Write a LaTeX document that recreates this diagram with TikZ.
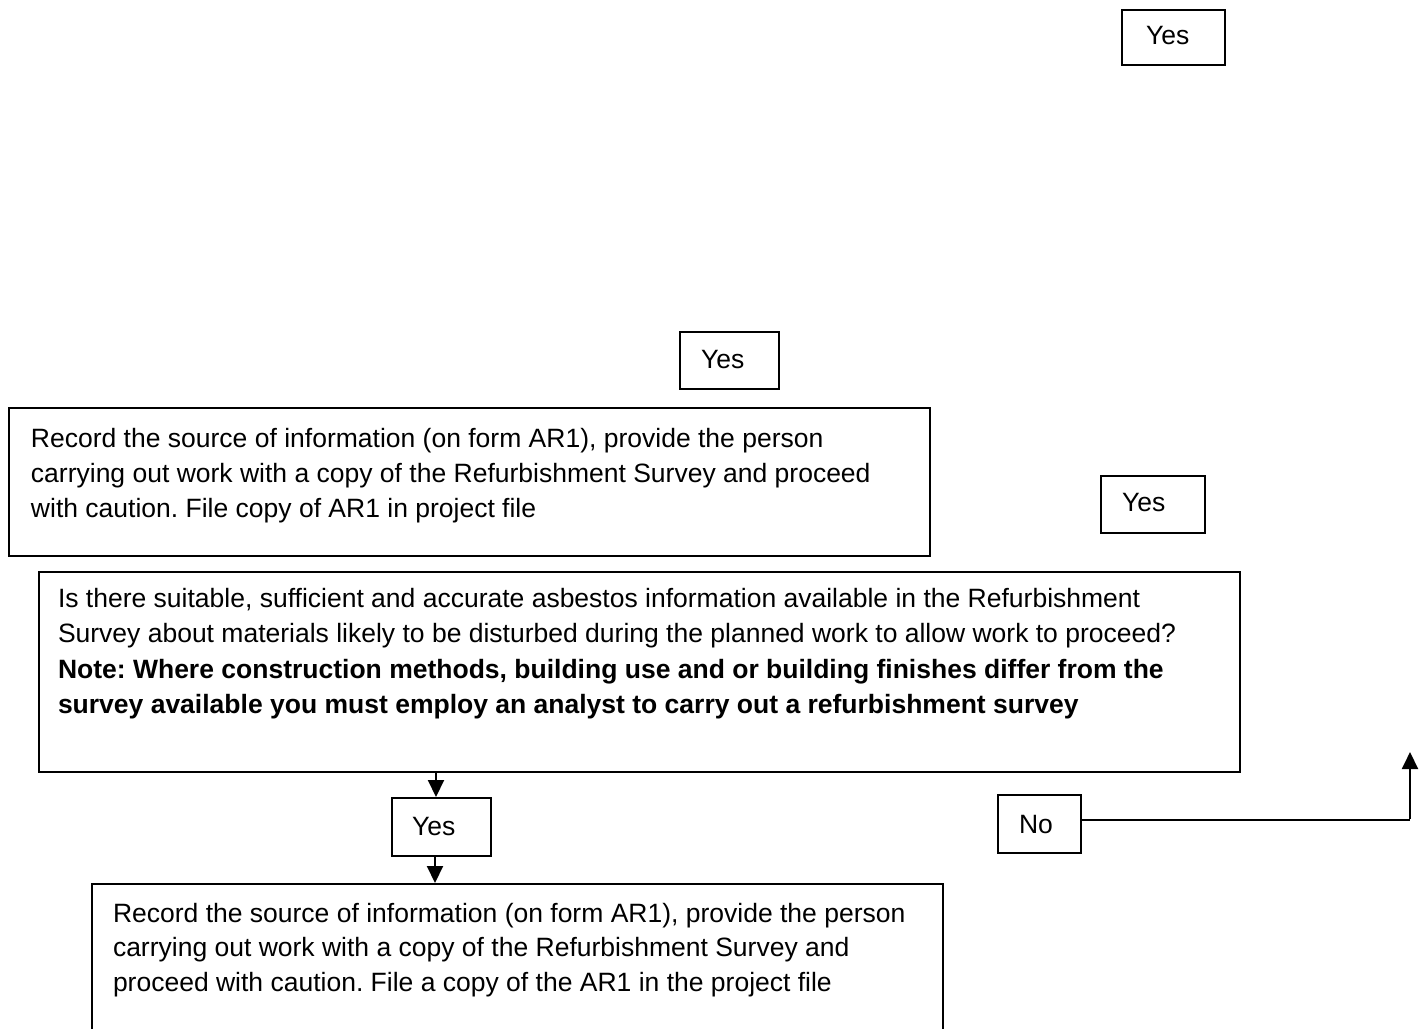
\documentclass[tikz,border=0pt]{standalone}
\usepackage{fontspec}
\setmainfont{Liberation Sans}
\usetikzlibrary{arrows.meta}
\frenchspacing
\newcommand{\bxt}[5]{\parbox[c][#2][t]{#1}{\frenchspacing\raggedright\leftskip=#3\relax\rule{0pt}{#4}#5}}
\tikzset{
  fbox/.style={draw=black, line width=2pt, inner sep=0pt, anchor=north west, font=\fontsize{26.5}{35}\selectfont},
  conn/.style={line width=2pt, -{Triangle[length=17pt,width=16pt]}},
  plain/.style={line width=2pt}
}
\begin{document}
\begin{tikzpicture}[x=1pt,y=-1pt]
\useasboundingbox (0,0) rectangle (1421,1028);
\begin{scope}
\clip (0,0) rectangle (1421,1028);
% Yes boxes
\node[fbox] (yes1) at (1121,9) {\bxt{103pt}{55pt}{24pt}{34pt}{Yes}};
\node[fbox] (yes2) at (679,331) {\bxt{99pt}{57pt}{21pt}{36pt}{Yes}};
\node[fbox] (boxA) at (8,407) {\bxt{921pt}{148pt}{22pt}{39pt}{Record the source of information (on form AR1), provide the person\\carrying out work with a copy of the Refurbishment Survey and proceed\\with caution. File copy of AR1 in project file}};
\node[fbox] (yes3) at (1100,475) {\bxt{104pt}{57pt}{21pt}{35pt}{Yes}};
\node[fbox] (boxB) at (38,571) {\bxt{1201pt}{200pt}{19pt}{35pt}{\baselineskip=35.5pt Is there suitable, sufficient and accurate asbestos information available in the Refurbishment\\Survey about materials likely to be disturbed during the planned work to allow work to proceed?\\\textbf{Note: Where construction methods, building use and or building finishes differ from the}\\\textbf{survey available you must employ an analyst to carry out a refurbishment survey}}};
\node[fbox] (yes4) at (391,797) {\bxt{99pt}{58pt}{20pt}{37pt}{Yes}};
\node[fbox] (no) at (997,794) {\bxt{83pt}{58pt}{21pt}{38pt}{No}};
\node[fbox] (boxC) at (91,883) {\bxt{851pt}{160pt}{21pt}{38pt}{\baselineskip=34.5pt Record the source of information (on form AR1), provide the person\\carrying out work with a copy of the Refurbishment Survey and\\proceed with caution. File a copy of the AR1 in the project file}};
\end{scope}
% connectors
\coordinate (ax) at (436,0);
\coordinate (bx) at (435,0);
\draw[conn] (boxB.south -| ax) -- (yes4.north -| ax);
\draw[conn] (yes4.south -| bx) -- (boxC.north -| bx);
\coordinate (turn) at (1410,820);
\coordinate (upend) at (1410,752);
\draw[plain] (no.east |- turn) -- (turn);
\draw[conn] ([yshift=1pt]turn) -- (upend);
\end{tikzpicture}
\end{document}
